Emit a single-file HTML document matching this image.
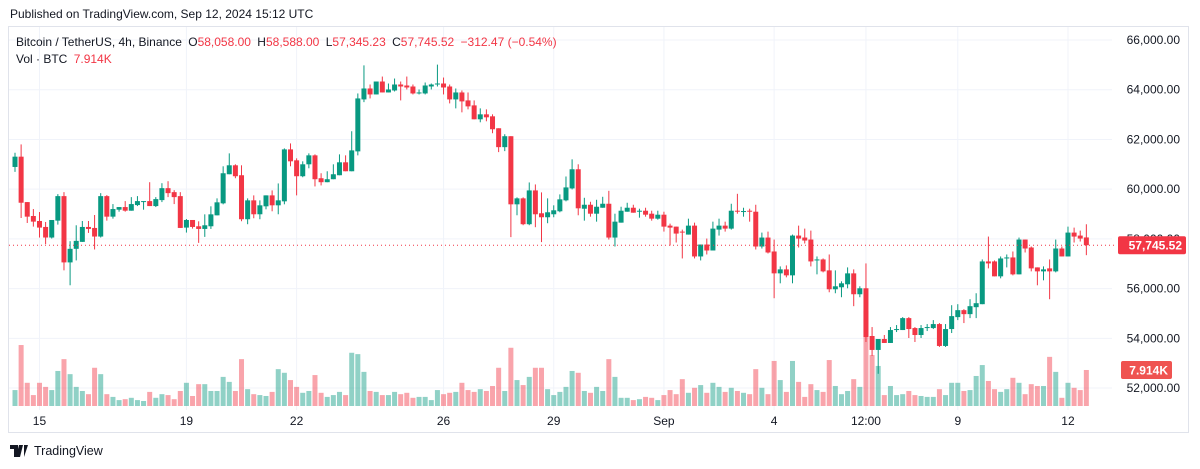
<!DOCTYPE html>
<html><head><meta charset="utf-8"><style>
html,body{margin:0;padding:0;background:#fff;width:1200px;height:469px;overflow:hidden;font-family:"Liberation Sans",sans-serif;color:#131722}
#hdr{position:absolute;left:10px;top:7px;font-size:12px;color:#131722}
#frame{position:absolute;left:8px;top:26px;width:1181px;height:407px;border:1px solid #e0e3eb;box-sizing:border-box}
#foot{position:absolute;left:10px;top:444px;font-size:12.5px;color:#131722;display:flex;align-items:center;gap:4px}
svg{position:absolute;left:0;top:0}
</style></head><body>
<div id="hdr">Published on TradingView.com, Sep 12, 2024 15:12 UTC</div>
<div id="frame"></div>
<svg id="chart" width="1200" height="469"></svg>
<div id="foot"><svg width="20" height="12" style="position:static"><path d="M0 0h8v12h-4v-8h-4z M9 0h4l-3 12h-4z M14 0h4l-4 12z" fill="#131722"/></svg><span>TradingView</span></div>
<script>
const opens=[60893,61307,59480,58920,58720,58480,58054,58734,59720,57054,57600,57880,58480,58440,58094,59720,58894,59174,59280,59134,59360,59500,59520,59320,59560,60040,59880,59720,58454,58760,58507,58400,58507,58947,59430,60600,60960,60560,58790,59550,58990,59310,59750,59350,59510,61600,61160,60520,61000,61360,60440,60280,60400,60560,61080,60720,61520,63610,64050,63810,64330,63890,63970,64210,64170,64130,63850,63850,64130,64210,64250,64130,63610,63890,63570,63370,62810,63010,62930,62450,61690,62130,59390,59630,58590,59950,59030,58870,58990,59110,59550,60030,60800,59213,59373,59013,59253,59413,58053,58653,59093,59253,59110,59133,59013,58813,58973,58533,58493,58293,58173,58533,57293,57773,57533,58373,58533,58413,59133,59093,59133,59093,57693,58053,57493,56613,56773,56533,58133,58053,57973,57153,57173,56733,55973,56053,56173,56613,55773,56013,54093,53533,53973,53813,54333,54333,54813,54413,54133,54413,54413,54573,53693,54373,54853,55133,54973,55253,55373,57093,57093,56493,57213,57253,56573,57973,57653,56853,56693,56813,56693,57613,57293,58253,58133,58058];
const highs=[61467,61800,59480,59200,59080,58680,58760,59800,59880,57907,58547,58720,58720,58960,59840,59760,59400,59280,59520,59680,59720,59520,60280,59680,60240,60320,59960,59880,58800,58760,58707,58987,59310,59630,60920,61440,61000,60960,59630,59750,59550,59750,59950,60230,61640,61840,61240,61120,61440,61400,60640,60720,61000,61400,61360,62330,63850,64980,64210,64330,64530,64250,64450,64330,64530,64210,64010,64290,64250,65010,64490,64210,64050,63970,63890,63570,63250,63210,63010,62450,62210,62130,59670,59670,60270,60190,59870,59630,59350,59790,60510,61200,61000,59653,59493,59573,59693,59933,59013,59293,59453,59373,59213,59253,59133,59133,59093,58613,58493,58373,58813,58653,57773,58013,58693,58813,58693,59413,59813,59253,59213,59373,58253,58293,57973,56893,56933,58173,58533,58413,58333,57293,57213,57373,56733,56293,56853,56773,56093,57013,54453,53973,54133,54453,54533,54853,54853,54453,54533,54573,54733,54613,54573,55333,55373,55173,55573,55813,57173,58093,57133,57293,57373,57493,58053,57973,57693,56853,56893,57173,57973,57693,58493,58453,58333,58588];
const lows=[60693,58840,58640,58494,58054,57787,58014,58574,56734,56134,57134,57880,58240,57574,58054,58734,58814,59094,59094,59134,59320,59174,59320,59280,59480,59680,59400,58440,58254,58414,57840,58080,58400,58947,59390,60600,60440,58710,58590,58830,58790,59190,59110,58990,59390,60920,59750,60480,60840,60110,60150,60280,60400,60560,60720,60720,61360,63500,63650,63810,63890,63890,63930,63570,64010,63810,63810,63810,64010,64130,63810,63450,63250,63090,63210,62810,62690,62730,62250,61490,61530,58070,58950,58550,58550,58470,57870,58630,58870,59070,59510,59990,58950,58733,58893,58693,59253,57973,57693,58653,59093,59053,58853,58893,58733,58773,58293,57733,57853,57213,58173,57213,57133,57373,57533,58133,58293,58373,59013,58893,58693,57573,57613,57413,55613,56213,56453,56213,57653,57813,56893,56573,56653,55853,55813,55653,56013,55293,55653,53853,53293,52573,53813,53813,54253,54333,54013,53853,54013,54293,54373,53653,53653,54213,54733,54613,54813,54813,55373,56813,56493,56413,56853,56533,56573,57453,56693,56133,56333,55573,56653,57293,57293,57853,57893,57345];
const closes=[61307,59454,58894,58694,58454,58054,58760,59720,57054,57600,57920,58480,58400,58094,59720,58894,59200,59280,59134,59400,59520,59520,59320,59600,60040,59840,59680,58440,58760,58480,58400,58547,58987,59470,60640,60960,60520,58790,59550,58990,59350,59750,59350,59550,61600,61120,60520,61000,61360,60400,60280,60400,60600,61080,60720,61560,63650,64050,63810,64330,63890,64010,64210,64130,64090,63850,63890,64170,64210,64250,64090,63610,63890,63530,63330,62810,63010,62890,62410,61690,62130,59390,59630,58590,59950,58990,58870,59070,59150,59590,60070,60800,59230,59373,59013,59293,59413,58053,58693,59133,59253,59053,59133,58973,58813,58973,58493,58453,58213,58253,58533,57293,57773,57533,58413,58533,58413,59133,59093,59120,59093,57693,58053,57453,56613,56773,56533,58133,58013,57933,57093,57173,56693,55973,56093,56213,56613,55773,56013,54053,53533,53973,53813,54333,54373,54813,54373,54133,54413,54453,54573,53693,54373,54893,55133,54973,55293,55413,57093,57013,56493,57213,57253,56573,57973,57613,56813,56693,56773,56693,57613,57293,58253,58093,58013,57745.52];
const volumes=[3.5,13.4,5.1,2.4,5.1,4.2,3.5,7.7,10.3,7.0,4.2,3.3,2.6,8.4,7.0,2.6,2.0,1.3,1.5,1.8,1.3,1.1,3.1,1.8,2.6,2.4,1.5,3.3,5.1,2.2,4.8,4.8,3.3,3.3,6.4,5.3,3.3,10.3,3.7,2.6,2.4,2.2,3.1,8.1,7.3,5.7,4.2,2.9,3.3,6.8,2.9,2.0,2.4,3.1,2.4,11.7,11.4,7.5,3.3,3.1,2.4,2.4,3.1,2.6,2.9,1.8,2.0,2.0,1.3,3.5,2.6,2.9,3.1,5.1,3.5,3.1,3.7,3.3,4.4,8.4,3.3,12.8,5.7,4.6,6.4,8.4,8.4,3.7,2.4,3.1,4.2,7.7,7.3,3.3,2.9,4.2,3.3,10.3,6.4,1.8,1.8,1.3,1.5,2.0,1.8,1.3,2.4,3.5,2.6,5.9,2.9,4.0,4.6,2.9,5.1,4.2,3.1,4.0,3.3,2.9,2.6,8.1,4.0,2.6,9.9,5.7,3.1,9.9,5.3,2.0,4.8,3.5,3.1,10.1,4.4,2.6,3.3,5.9,4.2,20.9,11.2,8.8,2.4,4.4,2.4,2.6,3.3,2.4,2.2,2.0,2.0,3.7,2.4,5.1,5.1,3.3,3.5,6.6,9.0,5.5,3.7,3.1,3.7,6.2,5.1,2.6,4.8,4.4,4.4,10.8,7.5,1.8,5.1,4.0,3.5,7.914];
const priceTicks=[66000,64000,62000,60000,58000,56000,54000,52000];
const timeLabels=["15","19","22","26","29","Sep","4","12:00","9","12"];
const timeIdx=[4,28,46,70,88,106,124,139,154,172];
const lastPrice=57745.52;

const NS="http://www.w3.org/2000/svg";
const svg=document.getElementById('chart');
const G='#089981',R='#F23645';
function yP(p){return 40+(66000-p)*0.02486;}
function xI(i){return 15+i*6.122;}
function yV(v){return 406-v*4.55;}
function mk(tag,attrs,parent){const e=document.createElementNS(NS,tag);for(const k in attrs)e.setAttribute(k,attrs[k]);(parent||svg).appendChild(e);return e;}
function fmt(p){return p.toLocaleString('en-US',{minimumFractionDigits:2,maximumFractionDigits:2});}

// grid
priceTicks.forEach(p=>{
  const l=mk('line',{x1:9,x2:1112,y1:yP(p),y2:yP(p),stroke:'#f0f3fa','stroke-width':1});
  
  
  const t=mk('text',{x:1180,y:yP(p)+4,'text-anchor':'end','font-size':12,fill:'#131722','font-family':'Liberation Sans, sans-serif'});
  t.textContent=fmt(p);
  
  
});
timeIdx.forEach((ix,k)=>{
  const x=xI(ix);
  const l=mk('line',{x1:x,x2:x,y1:27,y2:410,stroke:'#f0f3fa','stroke-width':1});
  
  
  const t=mk('text',{x:x,y:425,'text-anchor':'middle','font-size':12,fill:'#131722','font-family':'Liberation Sans, sans-serif'});
  t.textContent=timeLabels[k];
  
  
});
// volume
volumes.forEach((v,i)=>{
  const up=closes[i]>=opens[i];
  const r=mk('rect',{x:xI(i)-2.5,y:yV(v),width:5,height:406-yV(v),fill:up?'rgba(8,153,129,0.45)':'rgba(242,54,69,0.45)'});
  
  
});
// candles
closes.forEach((c,i)=>{
  const o=opens[i],up=c>=o,col=up?G:R,x=xI(i);
  const g=mk('g',{});
  
  
  mk('line',{x1:x,x2:x,y1:yP(highs[i]),y2:yP(lows[i]),stroke:col,'stroke-width':1},g);
  const top=yP(Math.max(o,c)),bot=yP(Math.min(o,c));
  mk('rect',{x:x-2.5,y:top,width:5,height:Math.max(1,bot-top),fill:col},g);
});
// last price line
const ly=yP(lastPrice);
const pl=mk('line',{x1:9,x2:1115,y1:ly,y2:ly,stroke:R,'stroke-width':1,'stroke-dasharray':'1 3'});


const pb=mk('rect',{x:1118,y:ly-9,width:68,height:18,fill:R,rx:2});


const pt=mk('text',{x:1182,y:ly+4.5,'text-anchor':'end','font-size':12,'font-weight':'bold',fill:'#fff','font-family':'Liberation Sans, sans-serif'});
pt.textContent=fmt(lastPrice);


const vv=volumes[volumes.length-1];
const vb=mk('rect',{x:1121,y:yV(vv)-9,width:51,height:18,fill:'#EF5350',rx:2});


const vt=mk('text',{x:1168,y:yV(vv)+4.5,'text-anchor':'end','font-size':12,'font-weight':'bold',fill:'#fff','font-family':'Liberation Sans, sans-serif'});
vt.textContent=vv.toFixed(3)+'K';


// legend
const lg=mk('text',{x:16,y:46,'font-size':12,fill:'#131722','font-family':'Liberation Sans, sans-serif'});


lg.innerHTML='Bitcoin / TetherUS, 4h, Binance <tspan dx="3">O</tspan><tspan fill="#F23645">58,058.00</tspan> <tspan dx="3">H</tspan><tspan fill="#F23645">58,588.00</tspan> <tspan dx="3">L</tspan><tspan fill="#F23645">57,345.23</tspan> <tspan dx="3">C</tspan><tspan fill="#F23645">57,745.52</tspan> <tspan dx="3" fill="#F23645">−312.47 (−0.54%)</tspan>';
const vl=mk('text',{x:16,y:63,'font-size':12,fill:'#131722','font-family':'Liberation Sans, sans-serif'});


vl.innerHTML='Vol · BTC <tspan dx="3" fill="#F23645">7.914K</tspan>';
</script>
</body></html>
